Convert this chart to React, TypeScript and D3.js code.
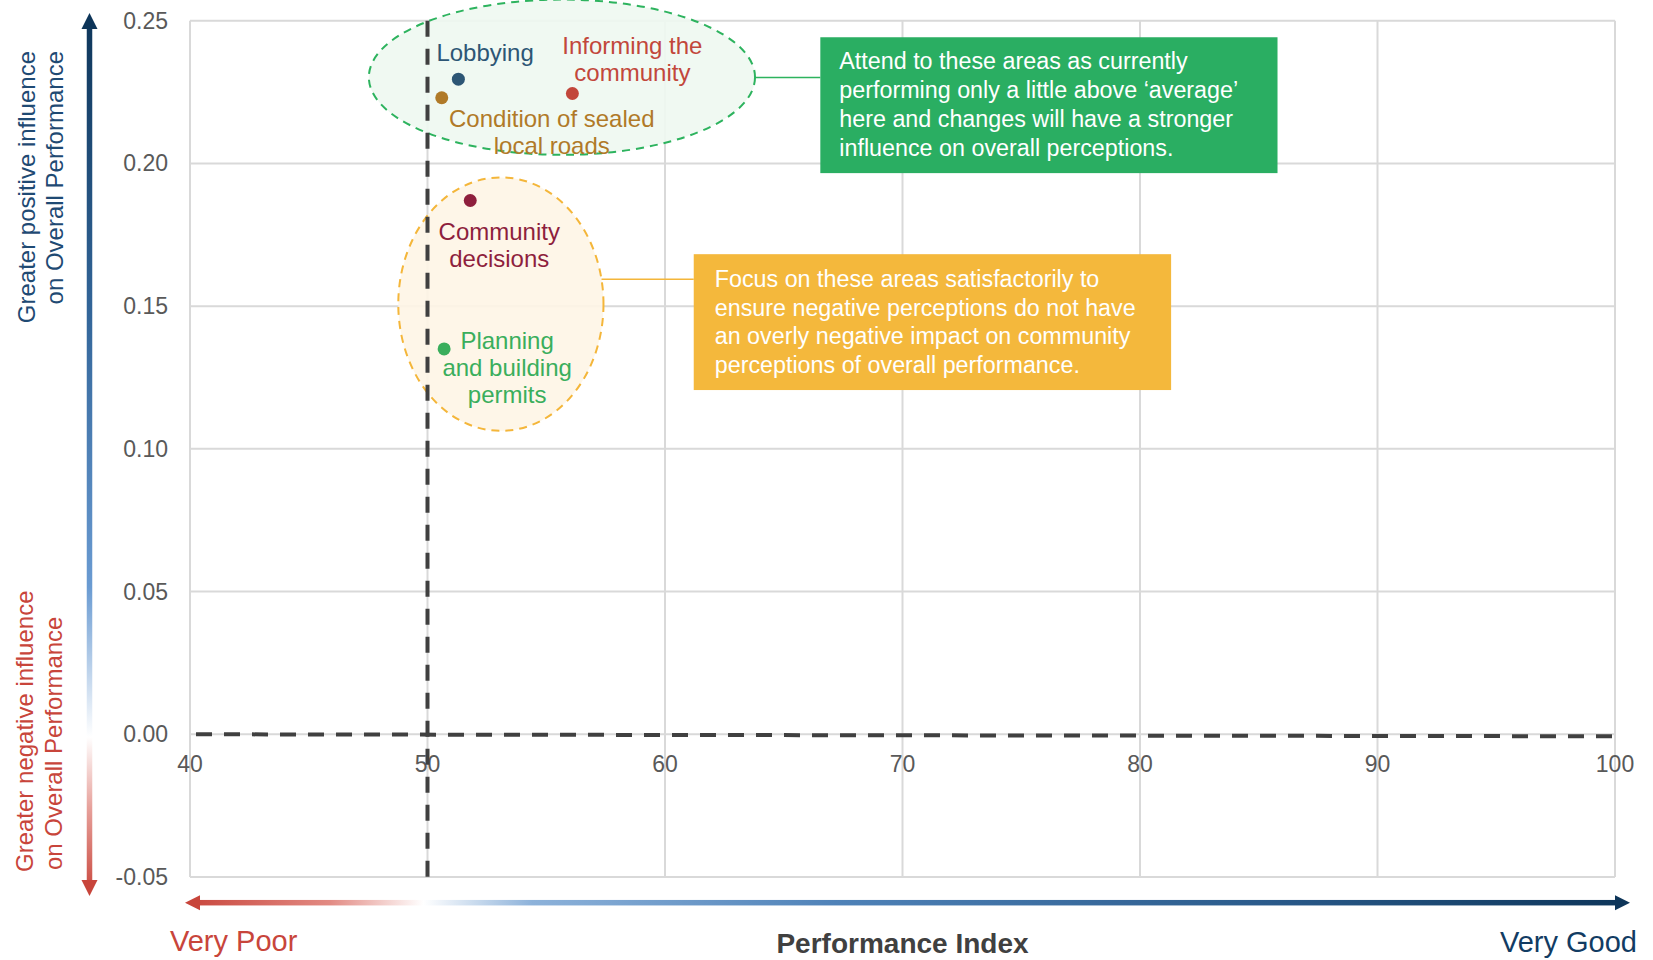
import * as d3 from "d3";

// performance index (x) vs influence on overall performance (y)
const areaNames = [
  "Lobbying",
  "Informing the community",
  "Condition of sealed local roads",
  "Community decisions",
  "Planning and building permits",
];
const perfIndex = [51.3, 56.1, 50.6, 51.8, 50.7];
const influence = [0.2295, 0.2245, 0.223, 0.187, 0.135];
const areaLabels = [
  ["Lobbying"],
  ["Informing the", "community"],
  ["Condition of sealed", "local roads"],
  ["Community", "decisions"],
  ["Planning", "and building", "permits"],
];
const areaColors = ["#2D5675", "#C2473B", "#B07A28", "#8E1F3D", "#3AAE5C"];
// label offsets (px) from each point
const labelDx = [-22, 60, 110, 29, 63];
const labelDy = [-18, -39, 29, 39, 0];
const labelAnchor = ["start", "middle", "middle", "middle", "middle"];

const xTicks = [40, 50, 60, 70, 80, 90, 100];
const yTicks = [-0.05, 0, 0.05, 0.1, 0.15, 0.2, 0.25];

// reference lines
const avgIndex = 50;
const zeroInfluence = 0;

const greenNote = [
  "Attend to these areas as currently",
  "performing only a little above \u2018average\u2019",
  "here and changes will have a stronger",
  "influence on overall perceptions.",
];
const orangeNote = [
  "Focus on these areas satisfactorily to",
  "ensure negative perceptions do not have",
  "an overly negative impact on community",
  "perceptions of overall performance.",
];

const FONT = "'Liberation Sans', Arial, sans-serif";
const fmtY = (v: number) => d3.format(".2f")(v).replace("\u2212", "-");

export default function App() {
  const W = 1653, H = 960;
  const m = { left: 190, right: 38, top: 20.7, bottom: 83 };
  const x = d3.scaleLinear().domain([40, 100]).range([m.left, W - m.right]);
  const y = d3.scaleLinear().domain([-0.05, 0.25]).range([H - m.bottom, m.top]);

  // highlighted groups, in data units
  const gEll = { cx: 55.66, cy: 0.2302, rx: 8.13, ry: 0.0272 };
  const oEll = { cx: 53.09, cy: 0.1507, rx: 4.32, ry: 0.0444 };
  const gBox = { x0: 66.54, x1: 85.79, y0: 0.2442, y1: 0.1966 };
  const oBox = { x0: 61.21, x1: 81.31, y0: 0.1682, y1: 0.1206 };

  const ell = (e: any) => ({
    cx: x(e.cx), cy: y(e.cy),
    rx: x(e.cx + e.rx) - x(e.cx), ry: y(e.cy) - y(e.cy + e.ry),
  });
  const ge = ell(gEll), oe = ell(oEll);
  const edgeX = (e: any, py: number) =>
    e.cx + e.rx * Math.sqrt(Math.max(0, 1 - ((py - e.cy) / e.ry) ** 2));
  const gConnY = y(0.2301);
  const oConnY = y(0.1594);

  const x0 = x(40), x1 = x(100);
  const yTop = y(0.25), yBot = y(-0.05);
  const grid = "#D9D9D9";

  const axY = 89.5, axX = 902.7;

  return (
    <svg width={W} height={H} style={{ position: "absolute", left: 0, top: 0, fontFamily: FONT }}>
      <defs>
        <linearGradient id="gradY" gradientUnits="userSpaceOnUse" x1={0} y1={13} x2={0} y2={896}>
          <stop offset="0" stopColor="#0D3559" />
          <stop offset="0.35" stopColor="#34679B" />
          <stop offset="0.65" stopColor="#6A9BD2" />
          <stop offset="0.82" stopColor="#FFFFFF" />
          <stop offset="0.9" stopColor="#E7A19B" />
          <stop offset="1" stopColor="#C8453B" />
        </linearGradient>
        <linearGradient id="gradX" gradientUnits="userSpaceOnUse" x1={185} y1={0} x2={1630} y2={0}>
          <stop offset="0" stopColor="#C8453B" />
          <stop offset="0.1" stopColor="#E28A83" />
          <stop offset="0.165" stopColor="#FFFFFF" />
          <stop offset="0.24" stopColor="#8DB2DA" />
          <stop offset="0.45" stopColor="#4F82B8" />
          <stop offset="0.75" stopColor="#2A5A8A" />
          <stop offset="1" stopColor="#0D3559" />
        </linearGradient>
      </defs>

      {/* grid */}
      <g>
        {yTicks.map((t) => (
          <line key={"gy" + t} x1={x0} x2={x1} y1={y(t)} y2={y(t)} stroke={grid} strokeWidth={2} />
        ))}
        {xTicks.map((t) => (
          <line key={"gx" + t} x1={x(t)} x2={x(t)} y1={yTop} y2={yBot} stroke={grid} strokeWidth={2} />
        ))}
      </g>

      {/* tick labels */}
      <g fill="#595959" fontSize={23}>
        {yTicks.map((t) => (
          <text key={"ty" + t} x={x0 - 22} y={y(t) + 8} textAnchor="end">
            {fmtY(t)}
          </text>
        ))}
        {xTicks.map((t) => (
          <text key={"tx" + t} x={x(t)} y={y(zeroInfluence) + 38} textAnchor="middle">
            {t}
          </text>
        ))}
      </g>

      {/* highlight ellipses */}
      <ellipse {...ge} fill="#EEF8F1" fillOpacity={0.9} stroke="#2DB35E" strokeWidth={2} strokeDasharray="8,6" />
      <ellipse {...oe} fill="#FEF5E6" fillOpacity={0.9} stroke="#F4B63A" strokeWidth={2} strokeDasharray="8,6" />

      {/* reference lines */}
      <line x1={x(avgIndex)} x2={x(avgIndex)} y1={yTop} y2={yBot}
        stroke="#404040" strokeWidth={4} strokeDasharray="16,12" />
      <line x1={x0} x2={x1} y1={y(zeroInfluence)} y2={y(zeroInfluence) + 2}
        stroke="#404040" strokeWidth={4} strokeDasharray="16,12" strokeDashoffset={-6} />

      {/* connectors */}
      <line x1={edgeX(ge, gConnY)} x2={x(gBox.x0)} y1={gConnY} y2={gConnY} stroke="#2DB35E" strokeWidth={1.5} />
      <line x1={edgeX(oe, oConnY)} x2={x(oBox.x0)} y1={oConnY} y2={oConnY} stroke="#F4B63A" strokeWidth={1.5} />

      {/* note boxes */}
      <rect x={x(gBox.x0)} y={y(gBox.y0)} width={x(gBox.x1) - x(gBox.x0)} height={y(gBox.y1) - y(gBox.y0)} fill="#2AAE62" />
      <g fill="#FFFFFF" fontSize={23.3}>
        {greenNote.map((s, i) => (
          <text key={"gn" + i} x={x(gBox.x0) + 19} y={y(gBox.y0) + 32 + i * 29}>{s}</text>
        ))}
      </g>
      <rect x={x(oBox.x0)} y={y(oBox.y0)} width={x(oBox.x1) - x(oBox.x0)} height={y(oBox.y1) - y(oBox.y0)} fill="#F4B83C" />
      <g fill="#FFFFFF" fontSize={23.3}>
        {orangeNote.map((s, i) => (
          <text key={"on" + i} x={x(oBox.x0) + 21} y={y(oBox.y0) + 33 + i * 28.5}>{s}</text>
        ))}
      </g>

      {/* points + labels */}
      {areaNames.map((n, i) => {
        const px = x(perfIndex[i]), py = y(influence[i]);
        return (
          <g key={n}>
            <circle cx={px} cy={py} r={6.5} fill={areaColors[i]} />
            <text x={px + labelDx[i]} y={py + labelDy[i]} fill={areaColors[i]} fontSize={24}
              textAnchor={labelAnchor[i] as any}>
              {areaLabels[i].map((l, j) => (
                <tspan key={j} x={px + labelDx[i]} dy={j === 0 ? 0 : 27}>{l}</tspan>
              ))}
            </text>
          </g>
        );
      })}

      {/* y direction arrow */}
      <rect x={axY - 2.75} y={27} width={5.5} height={855} fill="url(#gradY)" />
      <polygon points={`${axY},13 ${axY - 8},29 ${axY + 8},29`} fill="#0D3559" />
      <polygon points={`${axY},896 ${axY - 8},880 ${axY + 8},880`} fill="#C8453B" />

      {/* x direction arrow */}
      <rect x={198} y={axX - 2.75} width={1418} height={5.5} fill="url(#gradX)" />
      <polygon points={`185,${axX} 200,${axX - 7.5} 200,${axX + 7.5}`} fill="#C8453B" />
      <polygon points={`1630,${axX} 1615,${axX - 7.5} 1615,${axX + 7.5}`} fill="#0D3559" />

      {/* y titles */}
      <g fontSize={24} fill="#1F4A73">
        <text transform="translate(35,51) rotate(-90)" textAnchor="end">Greater positive influence</text>
        <text transform="translate(63,51) rotate(-90)" textAnchor="end">on Overall Performance</text>
      </g>
      <g fontSize={24} fill="#C8453B">
        <text transform="translate(33,872) rotate(-90)" textAnchor="start">Greater negative influence</text>
        <text transform="translate(62,870) rotate(-90)" textAnchor="start">on Overall Performance</text>
      </g>

      {/* x titles */}
      <text x={170} y={951} fontSize={29} fill="#C8453B">Very Poor</text>
      <text x={1637} y={952} fontSize={29} fill="#123C63" textAnchor="end">Very Good</text>
      <text x={(x0 + x1) / 2} y={953} fontSize={28} fontWeight="bold" fill="#404040" textAnchor="middle">
        Performance Index
      </text>
    </svg>
  );
}
